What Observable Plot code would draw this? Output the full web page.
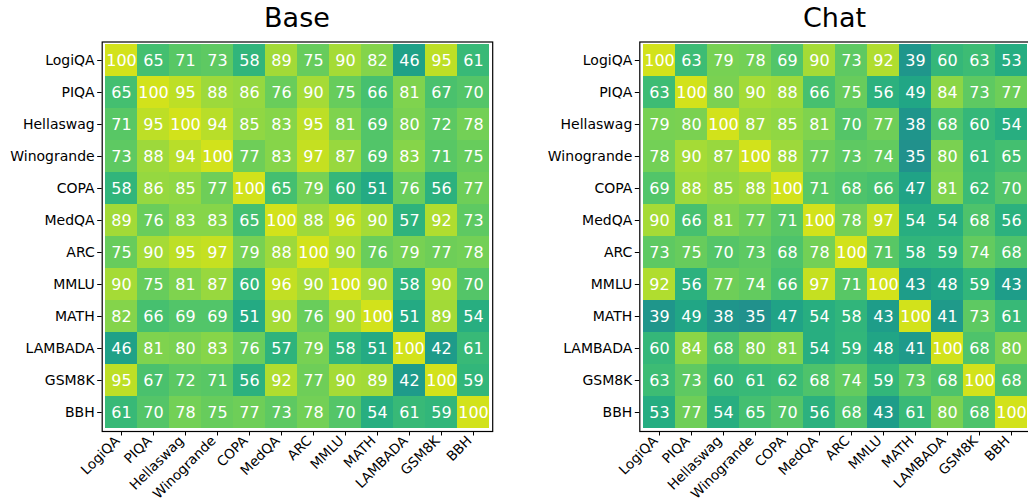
<!DOCTYPE html>
<html>
<head>
<meta charset="utf-8">
<script src="https://cdn.jsdelivr.net/npm/d3@7"></script>
<script src="https://cdn.jsdelivr.net/npm/@observablehq/plot@0.6"></script>
<style>
  html, body { margin: 0; padding: 0; background: #fff; }
  body { width: 1028px; height: 504px; overflow: hidden; position: relative; font-family: "DejaVu Sans", sans-serif; }
  .panel { position: absolute; top: 0; width: 520px; height: 504px; }
  .title { position: absolute; top: 2px; font-size: 27px; text-align: center; color: #000; }
  svg { position: absolute; top: 0; left: 0; }
</style>
</head>
<body>
<div id="left" class="panel" style="left:0px"></div>
<div id="right" class="panel" style="left:520px"></div>
<script>
const categories = ["LogiQA","PIQA","Hellaswag","Winogrande","COPA","MedQA","ARC","MMLU","MATH","LAMBADA","GSM8K","BBH"];

const baseValues = [
  [100,65,71,73,58,89,75,90,82,46,95,61],
  [65,100,95,88,86,76,90,75,66,81,67,70],
  [71,95,100,94,85,83,95,81,69,80,72,78],
  [73,88,94,100,77,83,97,87,69,83,71,75],
  [58,86,85,77,100,65,79,60,51,76,56,77],
  [89,76,83,83,65,100,88,96,90,57,92,73],
  [75,90,95,97,79,88,100,90,76,79,77,78],
  [90,75,81,87,60,96,90,100,90,58,90,70],
  [82,66,69,69,51,90,76,90,100,51,89,54],
  [46,81,80,83,76,57,79,58,51,100,42,61],
  [95,67,72,71,56,92,77,90,89,42,100,59],
  [61,70,78,75,77,73,78,70,54,61,59,100]
];

const chatValues = [
  [100,63,79,78,69,90,73,92,39,60,63,53],
  [63,100,80,90,88,66,75,56,49,84,73,77],
  [79,80,100,87,85,81,70,77,38,68,60,54],
  [78,90,87,100,88,77,73,74,35,80,61,65],
  [69,88,85,88,100,71,68,66,47,81,62,70],
  [90,66,81,77,71,100,78,97,54,54,68,56],
  [73,75,70,73,68,78,100,71,58,59,74,68],
  [92,56,77,74,66,97,71,100,43,48,59,43],
  [39,49,38,35,47,54,58,43,100,41,73,61],
  [60,84,68,80,81,54,59,48,41,100,68,80],
  [63,73,60,61,62,68,74,59,73,68,100,68],
  [53,77,54,65,70,56,68,43,61,80,68,100]
];

const titles = ["Base", "Chat"];

function tidy(matrix) {
  const out = [];
  matrix.forEach((row, i) => row.forEach((v, j) => out.push({row: categories[i], col: categories[j], value: v})));
  return out;
}

function heatmap(matrix, marginLeft, marginRight) {
  const data = tidy(matrix);
  return Plot.plot({
    width: 520,
    height: 504,
    marginLeft, marginRight,
    marginTop: 41.5,
    marginBottom: 73,
    style: {fontFamily: "DejaVu Sans", fontSize: "14px", color: "#000", background: "transparent"},
    x: {domain: categories, padding: 0, label: null, axis: null},
    y: {domain: categories, padding: 0, label: null, axis: null},
    color: {type: "linear", scheme: "viridis", domain: [-40, 110]},
    marks: [
      Plot.cell(data, {x: "col", y: "row", fill: "value", inset: 0}),
      Plot.text(data, {x: "col", y: "row", text: d => String(d.value), fill: "white", fontSize: 16}),
      Plot.frame({stroke: "#000", strokeWidth: 1.2}),
      Plot.axisY({fontSize: 14, tickSize: 4.5, tickPadding: 3, label: null, fill: "#000", stroke: "#000"}),
      Plot.axisX({tickSize: 4.5, tickFormat: () => "", label: null, stroke: "#000"}),
      Plot.axisX({fontSize: 13.6, tickSize: 0, tickPadding: 6, tickRotate: -45, label: null, fill: "#000", dx: -4, dy: 1})
    ]
  });
}

function panel(id, matrix, title, marginLeft, marginRight) {
  const el = document.getElementById(id);
  el.appendChild(heatmap(matrix, marginLeft, marginRight));
  const t = document.createElement("div");
  t.className = "title";
  t.textContent = title;
  t.style.left = marginLeft + "px";
  t.style.width = (520 - marginLeft - marginRight) + "px";
  el.appendChild(t);
}

panel("left", baseValues, titles[0], 101.7, 27.8);
panel("right", chatValues, titles[1], 119.3, 10.2);
</script>
</body>
</html>
